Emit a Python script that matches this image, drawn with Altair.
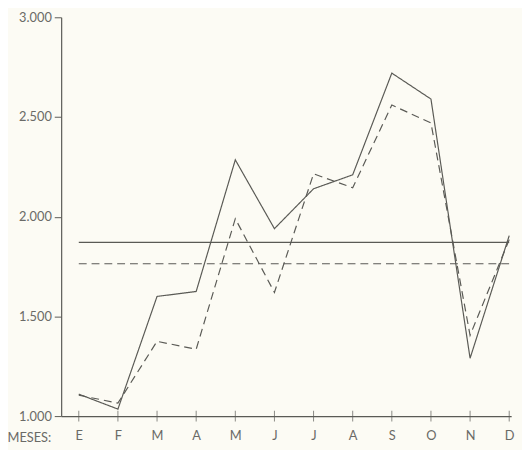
import altair as alt
import pandas as pd

# --- data ---
months = ["E", "F", "M", "A", "M", "J", "J", "A", "S", "O", "N", "D"]
serie_solid = [1110, 1035, 1600, 1625, 2285, 1940, 2140, 2210, 2720, 2590, 1290, 1905]
serie_dash = [1105, 1065, 1375, 1335, 1990, 1620, 2215, 2145, 2560, 2470, 1405, 1885]
y_ticks = [1000, 1500, 2000, 2500, 3000]
series_names = ["A", "B"]

rows = []
for i, (a, b) in enumerate(zip(serie_solid, serie_dash)):
    rows.append({"idx": i, "mes": months[i], "serie": "A", "valor": a})
    rows.append({"idx": i, "mes": months[i], "serie": "B", "valor": b})
df = pd.DataFrame(rows)
df_months = pd.DataFrame({"idx": list(range(len(months))), "mes": months})

INK = "#5a5a55"
TEXT = "#6a6a66"
FONT = "Lato"

month_expr = "[" + ",".join("'%s'" % m for m in months) + "][datum.value]"

x_scale = alt.Scale(domain=[-0.45, 11.05], nice=False, zero=False)
y_scale = alt.Scale(domain=[1000, 3000], nice=False, zero=False)
dash_scale = alt.Scale(domain=series_names, range=[[1, 0], [8, 5]])

x_axis = alt.Axis(
    values=list(range(len(months))),
    labelExpr=month_expr,
    ticks=False,
    grid=False,
    domainColor=INK,
    domainWidth=1.2,
    labelPadding=14,
    labelFontSize=13,
    labelColor=TEXT,
    labelFont=FONT,
    title="MESES:",
    titleFont=FONT,
    titleFontSize=13,
    titleFontWeight="normal",
    titleColor=TEXT,
    titleAnchor="start",
    titleAlign="left",
    titleBaseline="alphabetic",
    titleX=-55,
    titleY=26,
)
y_axis = alt.Axis(
    values=y_ticks,
    labelExpr="replace(format(datum.value, ','), ',', '.')",
    grid=False,
    domainColor=INK,
    domainWidth=1.2,
    tickColor=INK,
    tickSize=7,
    labelPadding=3,
    labelFontSize=13,
    labelColor=TEXT,
    labelFont=FONT,
    title=None,
)

lines = alt.Chart(df).mark_line(color=INK, strokeWidth=1.2).encode(
    x=alt.X("idx:Q", scale=x_scale, axis=x_axis),
    y=alt.Y("valor:Q", scale=y_scale, axis=y_axis),
    strokeDash=alt.StrokeDash("serie:N", scale=dash_scale, legend=None),
    detail="serie:N",
)

means = (
    alt.Chart(df)
    .transform_aggregate(media="mean(valor)", groupby=["serie"])
    .transform_calculate(x0="0", x1=str(len(months) - 1))
    .mark_rule(color=INK, strokeWidth=1.2)
    .encode(
        x=alt.X("x0:Q", scale=x_scale),
        x2="x1:Q",
        y=alt.Y("media:Q", scale=y_scale),
        strokeDash=alt.StrokeDash("serie:N", scale=dash_scale, legend=None),
    )
)

xticks = alt.Chart(df_months).mark_tick(
    orient="vertical", size=11, thickness=1, color=INK
).encode(
    x=alt.X("idx:Q", scale=x_scale),
    y=alt.datum(1000, scale=y_scale),
)

chart = (
    alt.layer(means, lines, xticks)
    .properties(
        width=457,
        height=405,
        autosize=alt.AutoSizeParams(type="none"),
        padding={"left": 54, "top": 6, "right": 11, "bottom": 31},
        background="#fcfbf4",
    )
    .configure_view(stroke=None)
)

chart.save("out.html", embed_options={"renderer": "svg", "actions": False})
